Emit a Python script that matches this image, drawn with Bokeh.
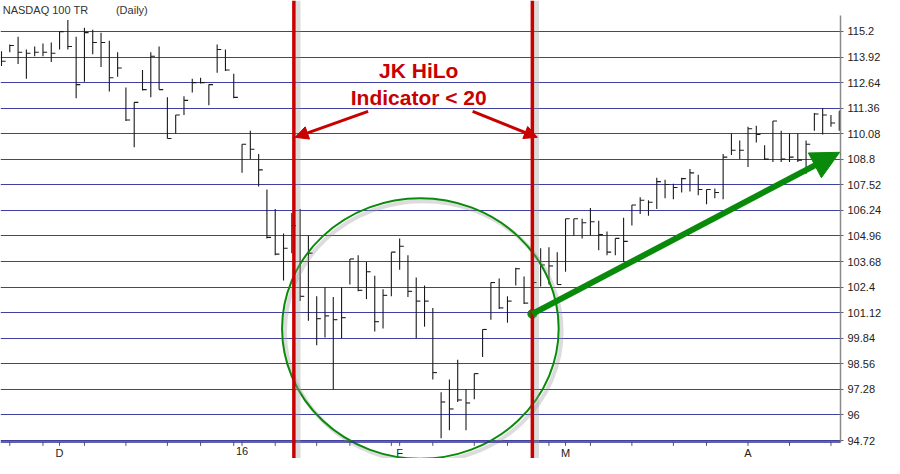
from bokeh.plotting import figure
from bokeh.models import (Range1d, FixedTicker, Label, Arrow, NormalHead, Span,
                          ColumnDataSource, CustomJSTickFormatter)
from bokeh.core.properties import value
from bokeh.embed import file_html
from bokeh.resources import INLINE

# ---------------- data ----------------
highs = [114.21, 114.55, 114.94, 114.30, 114.45, 114.60, 114.65, 115.19, 115.77, 114.94,
         115.38, 115.28, 115.14, 114.74, 114.16, 112.39, 111.65, 113.27, 114.16, 114.45,
         111.90, 111.02, 111.95, 112.83, 112.88, 112.54, 114.55, 114.30, 113.08, 109.55,
         110.23, 109.06, 107.29, 106.31, 105.08, 106.11, 106.31, 104.98, 101.94, 102.39,
         101.90, 102.39, 103.81, 104.00, 103.66, 102.97, 102.29, 104.15, 104.84, 104.00,
         102.88, 102.48, 101.36, 97.14, 97.78, 98.76, 97.29, 98.07, 100.28, 102.63,
         102.83, 101.94, 103.37, 102.93, 103.27, 104.35, 104.40, 104.15, 105.82, 105.82,
         105.82, 106.36, 105.72, 105.18, 104.84, 105.87, 106.51, 106.90, 106.75, 107.88,
         107.78, 107.58, 107.88, 108.32, 108.03, 107.29, 107.34, 109.06, 110.09, 109.74,
         110.43, 110.48, 109.50, 110.72, 110.23, 110.09, 110.09, 109.74, 111.12, 111.36,
         111.02, 111.21]
lows = [113.47, 114.16, 113.57, 112.83, 113.96, 113.96, 113.67, 114.30, 114.30, 111.85,
        112.68, 114.06, 113.42, 112.19, 112.93, 110.72, 109.40, 112.24, 111.90, 112.29,
        109.84, 110.09, 111.02, 112.15, 112.59, 111.51, 113.13, 113.22, 111.85, 108.12,
        108.81, 107.44, 104.84, 104.00, 102.73, 104.10, 101.70, 100.72, 99.49, 99.88,
        97.29, 99.84, 102.53, 102.19, 101.80, 100.18, 100.33, 101.94, 103.27, 101.90,
        99.84, 100.42, 97.78, 94.83, 95.23, 96.65, 95.23, 96.79, 98.90, 100.77,
        101.31, 100.62, 102.48, 101.55, 102.14, 102.43, 102.53, 102.53, 103.17, 104.98,
        104.84, 104.98, 104.25, 104.00, 104.00, 103.66, 105.48, 106.06, 105.97, 106.31,
        106.85, 106.80, 107.14, 107.19, 107.00, 106.55, 106.85, 106.80, 109.01, 108.81,
        108.42, 109.64, 108.76, 108.66, 108.66, 108.66, 108.66, 108.07, 110.23, 110.04,
        110.43, 110.23]
closes = [113.71, 114.50, 114.16, 114.11, 114.16, 114.16, 114.11, 115.19, 114.45, 112.54,
          115.14, 114.65, 114.65, 112.88, 113.37, 110.77, 111.65, 112.29, 113.96, 112.29,
          109.84, 111.02, 111.75, 112.64, 112.64, 112.54, 114.30, 113.27, 111.90, 109.55,
          109.30, 108.27, 104.89, 104.05, 104.35, 105.48, 101.94, 104.10, 100.82, 100.96,
          100.77, 100.87, 103.81, 102.24, 103.17, 100.67, 101.99, 104.15, 104.45, 102.19,
          101.70, 101.70, 98.12, 96.65, 96.30, 96.75, 96.60, 98.07, 100.28, 102.63,
          101.36, 101.70, 103.32, 101.60, 102.63, 103.51, 103.46, 102.53, 105.82, 105.82,
          105.62, 105.67, 105.03, 104.15, 104.84, 104.69, 106.51, 106.75, 106.65, 107.68,
          107.54, 107.39, 107.83, 108.12, 107.29, 107.29, 107.14, 108.91, 109.25, 109.25,
          110.33, 110.04, 108.81, 110.72, 108.81, 108.91, 108.76, 109.55, 111.07, 111.02,
          110.62, 111.21]
bars = list(range(1, len(highs) + 1))

price_ticks = [94.72, 96.0, 97.28, 98.56, 99.84, 101.12, 102.4, 103.68, 104.96,
               106.24, 107.52, 108.8, 110.08, 111.36, 112.64, 113.92, 115.2]
week_tick_bars = [2, 6, 11, 16, 21, 25, 29, 34, 39, 43, 48, 53, 58, 62, 67, 72, 77,
                  82, 86, 91, 96, 101]
month_bars = [8, 30, 49, 69, 91]
month_labels = ["D", "16", "F", "M", "A"]

signal_start_bar = 36.25   # JK HiLo < 20 begins
signal_end_bar = 65.0      # JK HiLo < 20 ends

# ---------------- figure ----------------
FONT = "Liberation Sans"
base = price_ticks[0]
p = figure(width=884, height=458, output_backend="svg", toolbar_location=None,
           x_range=Range1d(0.88, 102.15), y_range=Range1d(93.82, 116.75),
           x_axis_location=None, y_axis_location="right",
           min_border_left=0, min_border_top=0, min_border_bottom=0, min_border_right=0)
p.outline_line_color = None
p.background_fill_color = "white"
p.border_fill_color = "white"
p.xgrid.visible = False
p.ygrid.ticker = FixedTicker(ticks=price_ticks)
p.ygrid.grid_line_color = "#4040A0"
p.ygrid.grid_line_width = 1.2

ya = p.yaxis[0]
ya.ticker = FixedTicker(ticks=price_ticks)
ya.bounds = (94.6, 116.0)
ya.formatter = CustomJSTickFormatter(code="return String(parseFloat(tick.toFixed(2)));")
ya.axis_line_color = "#8a8a8a"
ya.axis_line_width = 1.5
ya.major_tick_line_color = "#666666"
ya.major_tick_out = 3
ya.major_tick_in = 0
ya.minor_tick_line_color = None
ya.major_label_text_font = FONT
ya.major_label_text_font_size = "11px"
ya.major_label_text_color = "#222222"
ya.major_label_standoff = 4

# bottom base line and date ticks (drawn inside the frame, like the original)
p.add_layout(Span(location=base - 0.07, dimension="width", line_color="#2E2E8E",
                  line_width=1.5))
all_ticks = sorted(set(week_tick_bars + month_bars))
p.segment(x0=all_ticks, y0=[base - 0.08] * len(all_ticks), x1=all_ticks,
          y1=[base - 0.27] * len(all_ticks), line_color="#555555", line_width=1)
p.text(x=month_bars, y=[base - 0.3] * len(month_bars), text=month_labels,
       text_align="center", text_baseline="top", text_font=value(FONT),
       text_font_size="11px", text_color="#222222")

# ---------------- HLC bars ----------------
src = ColumnDataSource(dict(x=bars, xt=[b + 0.5 for b in bars], h=highs, l=lows, c=closes))
p.segment(x0="x", y0="l", x1="x", y1="h", source=src, line_color="#1a1a1a", line_width=1.1)
p.segment(x0="x", y0="c", x1="xt", y1="c", source=src, line_color="#1a1a1a", line_width=1.1)

# ---------------- annotations ----------------
RED = "#C80000"
GREEN = "#0A8A0A"
for loc in (signal_start_bar, signal_end_bar):
    p.add_layout(Span(location=loc + 0.5, dimension="height", line_color="#9a9a9a",
                      line_alpha=0.35, line_width=5))
    p.add_layout(Span(location=loc, dimension="height", line_color=RED, line_width=3.5))

# green circle with soft shadow
p.ellipse(x=[51.85], y=[100.18], width=33.35, height=13.05, fill_color=None,
          line_color="#9a9a9a", line_alpha=0.35, line_width=4)
p.ellipse(x=[51.5], y=[100.33], width=33.35, height=13.05, fill_color=None,
          line_color=GREEN, line_width=2)

# red label
p.add_layout(Label(x=51.3, y=113.25, text="JK HiLo", text_align="center",
                   text_baseline="middle", text_font=FONT, text_font_size="21px",
                   text_font_style="bold", text_color=RED))
p.add_layout(Label(x=51.3, y=111.9, text="Indicator < 20", text_align="center",
                   text_baseline="middle", text_font=FONT, text_font_size="21px",
                   text_font_style="bold", text_color=RED))

# red arrows
for xs, xe in ((45.2, 36.4), (57.8, 65.6)):
    p.add_layout(Arrow(x_start=xs, y_start=111.2, x_end=xe, y_end=109.9,
                       line_color=RED, line_width=3,
                       end=NormalHead(size=13, fill_color=RED, line_color=RED)))

# green arrow and dot
p.add_layout(Arrow(x_start=signal_end_bar, y_start=101.06, x_end=102.05, y_end=109.15,
                   line_color=GREEN, line_width=6,
                   end=NormalHead(size=28, fill_color=GREEN, line_color=GREEN)))
p.scatter(x=[signal_end_bar], y=[101.06], size=9, color=GREEN)

# title texts
p.add_layout(Label(x=1.15, y=116.25, text="NASDAQ 100 TR", text_baseline="middle",
                   text_font=FONT, text_font_size="11px", text_color="#333333"))
p.add_layout(Label(x=14.8, y=116.25, text="(Daily)", text_baseline="middle",
                   text_font=FONT, text_font_size="11px", text_color="#333333"))

open("out.html", "w").write(file_html(p, INLINE))
